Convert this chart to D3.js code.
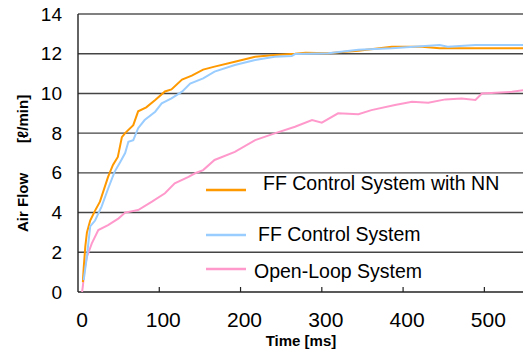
<html>
<script src="https://cdnjs.cloudflare.com/ajax/libs/d3/7.8.5/d3.min.js"></script>
<body style="margin:0; background:white;">
  <div id="graph"></div>
</body>
<script>
  // values
  var tNN = [6, 7, 9, 11, 15, 21, 27, 37, 43, 49, 54, 58, 68, 74, 84, 95, 107, 115, 128, 140, 154, 168, 193, 218, 242, 267, 280, 308, 329, 345, 386, 423, 445, 490, 550]
  var vNN = [0.5, 1.2, 2.3, 3.0, 3.6, 4.1, 4.55, 5.8, 6.4, 6.8, 7.8, 8.0, 8.4, 9.1, 9.3, 9.67, 10.1, 10.2, 10.7, 10.9, 11.2, 11.35, 11.6, 11.85, 11.93, 12.0, 12.05, 12.02, 12.1, 12.15, 12.35, 12.35, 12.27, 12.27, 12.27]

  var tFF = [7, 9, 11, 15, 21, 29, 37, 45, 52, 58, 62, 68, 74, 82, 95, 103, 115, 128, 138, 154, 168, 193, 218, 242, 263, 267, 308, 345, 386, 445, 455, 489, 550]
  var vFF = [0.6, 1.2, 1.8, 3.3, 3.6, 4.3, 5.2, 6.05, 6.55, 7.0, 7.57, 7.65, 8.25, 8.66, 9.08, 9.5, 9.75, 10.09, 10.5, 10.76, 11.1, 11.43, 11.68, 11.85, 11.88, 11.98, 12.02, 12.2, 12.27, 12.44, 12.35, 12.44, 12.44]

  var tOL = [5, 6, 8, 11, 17, 25, 37, 50, 58, 74, 91, 107, 119, 136, 144, 154, 168, 193, 218, 242, 267, 288, 300, 320, 345, 361, 390, 411, 431, 452, 472, 489, 497, 534, 550]
  var vOL = [0, 0.3, 1.1, 1.78, 2.45, 3.12, 3.37, 3.71, 4.0, 4.13, 4.55, 4.97, 5.47, 5.8, 5.98, 6.14, 6.65, 7.06, 7.65, 7.99, 8.32, 8.66, 8.53, 9.0, 8.95, 9.16, 9.42, 9.58, 9.53, 9.7, 9.75, 9.67, 10.0, 10.08, 10.17]

  var xTicks = [0, 100, 200, 300, 400, 500]
  var yTicks = [0, 2, 4, 6, 8, 10, 12, 14]
  var seriesNames = ["FF Control System with NN", "FF Control System", "Open-Loop System"]
  var seriesColors = ["#ff9900", "#99ccff", "#ff99cc"]

  var W = 523, H = 354
  var svg = d3.select("#graph").append("svg")
      .attr("width", W)
      .attr("height", H)
      .style("font-family", "Liberation Sans, Arial, sans-serif")

  var X = d3.scaleLinear().domain([0, 550]).range([78, 525])
  var Y = d3.scaleLinear().domain([0, 14]).range([292, 14])

  // grid lines
  svg.selectAll(".grid")
    .data(yTicks.filter(d => d > 0))
    .enter().append("line")
      .attr("x1", X(0)).attr("x2", W)
      .attr("y1", d => Y(d)).attr("y2", d => Y(d))
      .style("stroke", d => d == 14 ? "#808080" : "#444")
      .style("stroke-width", d => d == 14 ? 2 : 1.4)

  // axes
  svg.append("line").attr("x1", X(0)).attr("x2", X(0)).attr("y1", Y(14)).attr("y2", Y(0))
     .style("stroke", "#222").style("stroke-width", 1.4)
  svg.append("line").attr("x1", X(0)).attr("x2", W).attr("y1", Y(0)).attr("y2", Y(0))
     .style("stroke", "#222").style("stroke-width", 1.4)

  svg.selectAll(".xtick")
    .data(xTicks.filter(d => d > 0))
    .enter().append("line")
      .attr("x1", d => X(d)).attr("x2", d => X(d))
      .attr("y1", Y(0)).attr("y2", Y(0) - 5)
      .style("stroke", "#222").style("stroke-width", 1.2)

  svg.selectAll(".xlab")
    .data(xTicks)
    .enter().append("text")
      .attr("x", d => X(d) + 4)
      .attr("y", 327)
      .attr("text-anchor", "middle")
      .style("font-size", "21px")
      .text(d => d)

  svg.selectAll(".ylab")
    .data(yTicks)
    .enter().append("text")
      .attr("x", 62)
      .attr("y", d => Y(d) + 6.5)
      .attr("text-anchor", "end")
      .style("font-size", "19px")
      .text(d => d)

  // axis titles
  svg.append("text").attr("x", 301).attr("y", 346).attr("text-anchor", "middle")
     .style("font-size", "15px").style("font-weight", "bold").text("Time [ms]")
  svg.append("text").attr("transform", "translate(28,232) rotate(-90)")
     .style("font-size", "15px").style("font-weight", "bold").text("Air Flow")
  svg.append("text").attr("transform", "translate(28,143) rotate(-90)")
     .style("font-size", "15px").style("font-weight", "bold").text("[ℓ/min]")

  // curves
  svg.append("clipPath").attr("id", "clip").append("rect")
     .attr("x", X(0)).attr("y", 0).attr("width", W - X(0)).attr("height", Y(0))

  var line = d3.line().x(d => X(d[0])).y(d => Y(d[1]))
  var series = [
    [d3.zip(tOL, vOL), seriesColors[2]],
    [d3.zip(tNN, vNN), seriesColors[0]],
    [d3.zip(tFF, vFF), seriesColors[1]]
  ]
  series.forEach(s => {
    svg.append("path").attr("d", line(s[0]))
       .attr("clip-path", "url(#clip)")
       .style("fill", "none").style("stroke", s[1]).style("stroke-width", 2)
  })

  // legend (no box, sits over the grid)
  var legY = [190, 235, 269]
  var legTx = [263, 258, 254]
  var legBase = [190, 241, 278]
  seriesNames.forEach((name, i) => {
    svg.append("line").attr("x1", 206).attr("x2", 246).attr("y1", legY[i]).attr("y2", legY[i])
       .style("stroke", seriesColors[i]).style("stroke-width", 2.5)
    svg.append("text").attr("x", legTx[i]).attr("y", legBase[i])
       .style("font-size", "19.5px").text(name)
  })
</script>
</html>
